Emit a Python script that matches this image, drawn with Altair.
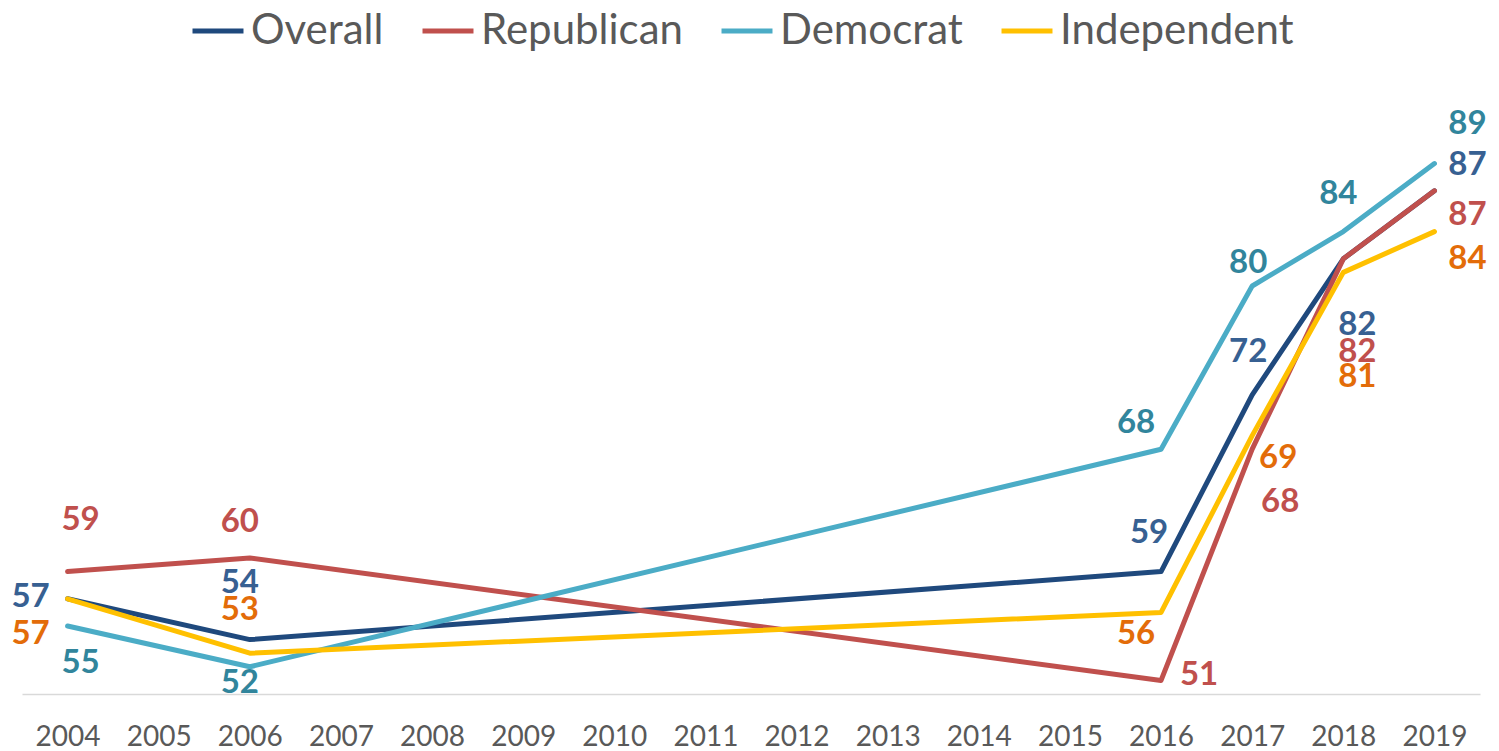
import altair as alt
import pandas as pd

# ---- data -------------------------------------------------------------
axis_years = [str(y) for y in range(2004, 2020)]
survey_years = ["2004", "2006", "2016", "2017", "2018", "2019"]
series_names = ["Overall", "Republican", "Democrat", "Independent"]
overall = [57, 54, 59, 72, 82, 87]
republican = [59, 60, 51, 68, 82, 87]
democrat = [55, 52, 68, 80, 84, 89]
independent = [57, 53, 56, 69, 81, 84]

# ---- styles -----------------------------------------------------------
line_colors = ["#1F497D", "#C0504D", "#4BACC6", "#FFC000"]
label_colors = ["#376092", "#C0504D", "#31859C", "#E36C09"]

# label placement (pixel offsets from each point), per series, per survey year
label_dx = {
    "Overall":     [-37, -10, -12, -4, 14, 33],
    "Republican":  [13, -10, 38, 28, 14, 33],
    "Democrat":    [13, -10, -25, -4, -5, 33],
    "Independent": [-37, -10, -25, 26, 14, 33],
}
label_dy = {
    "Overall":     [-2, -57, -39, -43, 66, -26],
    "Republican":  [-52, -36, -5, 53, 93, 24],
    "Democrat":    [37, 16, -26, -23, -38, -40],
    "Independent": [35, -43, 22, 22, 105, 27],
}

values = {"Overall": overall, "Republican": republican,
          "Democrat": democrat, "Independent": independent}
rows = []
for s in series_names:
    for yr, v in zip(survey_years, values[s]):
        rows.append({"series": s, "year": yr, "value": v})
df = pd.DataFrame(rows)

x_enc = alt.X("year:O", scale=alt.Scale(domain=axis_years, type="point", padding=0.5),
              axis=alt.Axis(title=None, labelAngle=0, ticks=False, grid=False,
                            domainColor="#D9D9D9", domainWidth=1.5,
                            labelFont="Lato", labelFontSize=28, labelColor="#595959",
                            labelPadding=29))
y_enc = alt.Y("value:Q", scale=alt.Scale(domain=[50, 100], nice=False, zero=False),
              axis=None)
color_enc = alt.Color("series:N",
                      scale=alt.Scale(domain=series_names, range=line_colors),
                      legend=alt.Legend(title=None, orient="none", direction="horizontal",
                                        legendX=168, legendY=-11,
                                        symbolType="stroke", symbolSize=2600,
                                        symbolStrokeWidth=5, labelFont="Lato",
                                        labelFontSize=42, labelColor="#595959",
                                        labelOffset=5, columnPadding=28,
                                        labelLimit=400))

base = alt.Chart(df)
layers = []
for s in series_names:
    layers.append(
        base.transform_filter(alt.datum.series == s)
        .mark_line(strokeWidth=5, strokeCap="round", strokeJoin="round")
        .encode(x=x_enc, y=y_enc, color=color_enc)
    )

for si, s in enumerate(series_names):
    for yi, yr in enumerate(survey_years):
        layers.append(
            base.transform_filter((alt.datum.series == s) & (alt.datum.year == yr))
            .mark_text(font="Lato", fontWeight="bold", fontSize=33,
                       align="center", baseline="middle",
                       dx=label_dx[s][yi], dy=label_dy[s][yi])
            .encode(x=x_enc, y=y_enc, text=alt.Text("value:Q"),
                    color=alt.value(label_colors[si]))
        )

chart = (
    alt.layer(*layers)
    .properties(width=1458, height=680, background="white",
                autosize=alt.AutoSizeParams(type="none"),
                padding={"left": 14, "top": 6, "right": 10, "bottom": 56})
    .configure_view(strokeWidth=0, stroke="transparent")
)

chart.save("out.html", embed_options={"renderer": "svg", "actions": False})
